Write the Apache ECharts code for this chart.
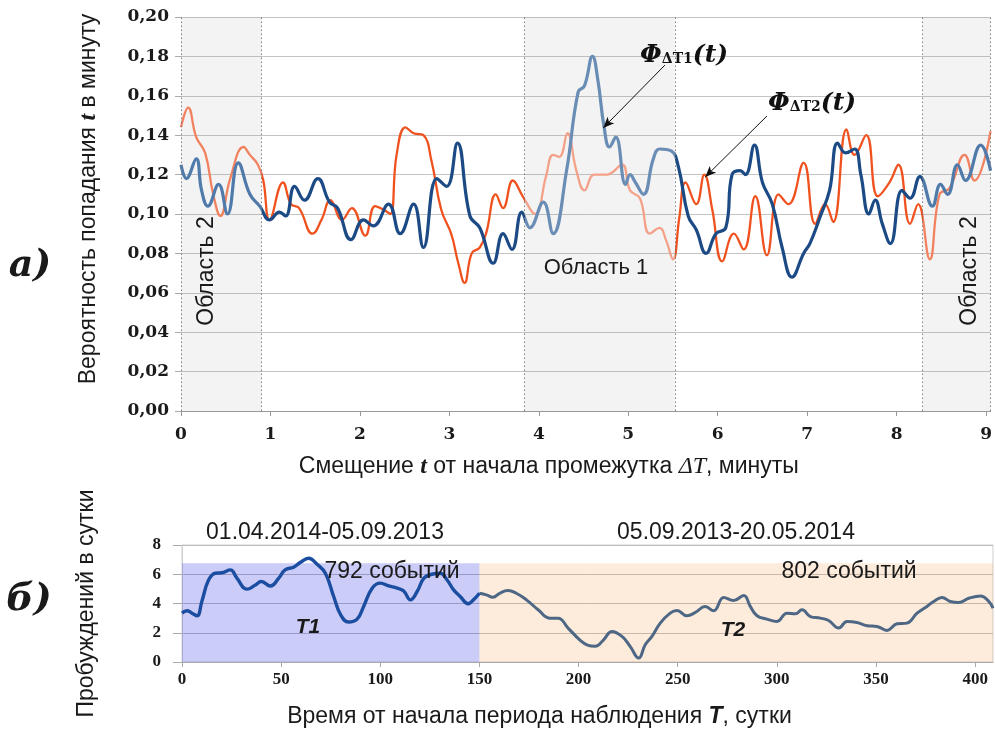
<!DOCTYPE html>
<html><head><meta charset="utf-8">
<script src="https://cdn.jsdelivr.net/npm/echarts@6/dist/echarts.min.js"></script>
<style>html,body{margin:0;padding:0;background:#fff}#c{width:995px;height:733px}</style>
</head><body><div id="c"></div>
<script>
// ---- Chart (a): probability per minute vs offset t ----
const orangeT = [0.00,0.08,0.17,0.27,0.36,0.44,0.55,0.70,0.77,0.86,0.92,0.99,1.14,1.23,1.32,1.47,1.57,1.67,1.80,1.91,2.06,2.17,2.27,2.34,2.41,2.51,2.60,2.71,2.80,2.91,3.02,3.10,3.17,3.25,3.34,3.41,3.52,3.60,3.71,3.82,3.96,4.08,4.16,4.23,4.32,4.42,4.51,4.62,4.76,4.93,5.02,5.13,5.24,5.35,5.42,5.50,5.57,5.64,5.76,5.85,5.94,6.05,6.18,6.29,6.42,6.55,6.68,6.79,6.96,7.09,7.20,7.29,7.44,7.53,7.66,7.79,7.92,8.02,8.15,8.24,8.37,8.48,8.59,8.76,8.87,9.05];
const orangeV = [0.144,0.154,0.139,0.131,0.110,0.099,0.118,0.134,0.130,0.125,0.117,0.097,0.116,0.105,0.103,0.090,0.097,0.107,0.097,0.103,0.089,0.104,0.102,0.100,0.130,0.144,0.141,0.140,0.127,0.102,0.090,0.075,0.065,0.080,0.083,0.090,0.110,0.103,0.117,0.109,0.100,0.119,0.130,0.129,0.141,0.122,0.112,0.120,0.120,0.125,0.112,0.108,0.090,0.093,0.087,0.077,0.098,0.116,0.105,0.120,0.102,0.076,0.090,0.082,0.109,0.079,0.110,0.105,0.126,0.095,0.105,0.096,0.143,0.130,0.140,0.109,0.116,0.125,0.095,0.105,0.077,0.110,0.113,0.130,0.117,0.142];
const blueT = [0.00,0.06,0.17,0.23,0.30,0.42,0.52,0.64,0.77,0.88,0.99,1.10,1.17,1.27,1.38,1.53,1.66,1.75,1.90,2.04,2.15,2.32,2.45,2.60,2.71,2.86,2.97,3.09,3.23,3.34,3.49,3.60,3.70,3.81,3.90,4.05,4.16,4.31,4.44,4.51,4.60,4.66,4.73,4.79,4.86,4.97,5.02,5.08,5.17,5.28,5.35,5.48,5.56,5.67,5.76,5.87,5.98,6.09,6.16,6.25,6.31,6.41,6.50,6.61,6.72,6.83,6.96,7.03,7.14,7.25,7.34,7.43,7.53,7.60,7.69,7.76,7.84,7.93,8.06,8.15,8.26,8.40,8.49,8.57,8.68,8.77,8.94,9.05];
const blueV = [0.125,0.118,0.128,0.112,0.104,0.115,0.100,0.126,0.110,0.104,0.097,0.101,0.099,0.114,0.107,0.118,0.106,0.103,0.087,0.097,0.094,0.105,0.090,0.105,0.083,0.118,0.114,0.136,0.099,0.093,0.075,0.090,0.082,0.101,0.093,0.106,0.090,0.122,0.162,0.165,0.180,0.168,0.144,0.134,0.139,0.115,0.120,0.116,0.110,0.128,0.133,0.132,0.124,0.099,0.092,0.080,0.090,0.093,0.120,0.122,0.120,0.135,0.116,0.105,0.083,0.068,0.080,0.085,0.098,0.112,0.136,0.131,0.133,0.120,0.100,0.107,0.095,0.085,0.112,0.108,0.119,0.104,0.115,0.110,0.125,0.117,0.135,0.122];
const region2Left = [0, 0.9];
const region1 = [3.84, 5.52];
const region2Right = [8.29, 9.05];
const topTickLabels = ['0','1','2','3','4','5','6','7','8','9'];

// ---- Chart (б): awakenings per day ----
const t1Days = [0,2.5,5,7.6,10,13.4,16.8,20,24.4,27.7,32.8,37,40,44.6,48.8,52,56.3,59.6,63.9,68,72.3,76.5,80,84,88.3,91.6,95.9,100,104.3,108.5,111.8,115.2,118.6,122,126,130.2,133.7,137,140.3,144.3,147,150];
const t1Vals = [3.34,3.5,3.34,3.16,4.14,5.6,6.07,6.1,6.3,5.73,4.98,5.27,5.5,5.2,5.73,6.3,6.48,6.8,7.09,6.7,6.07,4.48,3.23,2.73,2.93,3.8,5.05,5.39,5.2,5.05,4.86,4.25,4.82,5.73,6.0,6.07,5.61,4.93,4.48,3.98,4.25,4.7];
const t2Days = [150,153.5,156.8,160.2,164.4,168.6,173.7,179.6,185.4,189.7,194.7,200.7,204.5,208.4,212.6,216.8,221.9,226,230.3,233.6,237,241.2,246.2,249.6,254.6,258.9,263.9,268.1,273.2,278.2,283.3,286.6,290,295,300,305.1,309.3,312.7,316.9,321.9,326.1,331.2,335.4,340.4,345.5,350.5,355.5,360.6,365.6,370.7,375.7,379.1,383.3,387.5,391.7,396.8,402.7,406.9,409];
const t2Vals = [4.7,4.59,4.43,4.7,4.89,4.7,4.25,3.57,3.0,3.0,2.32,1.5,1.15,1.07,1.52,2.09,1.75,1.07,0.27,1.18,1.75,2.66,3.34,3.52,3.16,3.39,3.8,3.5,4.41,4.2,4.55,3.8,3.16,2.93,2.77,3.34,3.3,3.57,3.11,3.0,2.84,2.32,2.77,2.7,2.48,2.43,2.16,2.61,2.66,3.34,3.8,4.14,4.41,4.14,4.07,4.36,4.52,4.14,3.68];
const bandT1 = [0, 150, 6.75];     // x from, x to, height
const bandT2 = [150, 409, 6.75];
const bottomTickLabels = ['0','50','100','150','200','250','300','350','400'];

const zip = (a, b) => a.map((x, i) => [x, b[i]]);
const sans = '"Liberation Sans", Arial, sans-serif';
const serif = '"DejaVu Serif", serif';
const tserif = '"Liberation Serif", "Times New Roman", serif';
const ink = '#1a1a1a';

const chart = echarts.init(document.getElementById('c'), null, {renderer: 'canvas'});

const regions = [region2Left, region1, region2Right];
const regionAreas = regions.map(r => [{xAxis: r[0]}, {xAxis: r[1]}]);
const regionEdges = [];
regions.forEach(r => { regionEdges.push({xAxis: r[0]}); regionEdges.push({xAxis: r[1]}); });

const txt = (x, y, text, font, extra) => Object.assign({type: 'text', x, y, z: 100, zlevel: 0,
  style: {text, font, fill: ink, align: 'center', verticalAlign: 'middle'}}, extra || {});
const phiRich = {
  f: {font: 'italic bold 25px "DejaVu Serif", serif', fill: '#111', verticalAlign: 'bottom'},
  s: {font: 'bold 14px "DejaVu Serif", serif', fill: '#111', verticalAlign: 'bottom', padding: [0, 0, 1, 0]}
};

const option = {
  animation: false,
  backgroundColor: '#fff',
  grid: [
    {left: 181, top: 17, width: 812, height: 394},
    {left: 182, top: 545, width: 811, height: 117, show: true, borderColor: '#cfcfcf', borderWidth: 1, backgroundColor: 'transparent'}
  ],
  xAxis: [
    {gridIndex: 0, type: 'value', min: 0, max: 9.05, interval: 1,
     axisLine: {show: true, lineStyle: {color: '#999'}},
     axisTick: {show: true, length: 5, lineStyle: {color: '#999'}},
     splitLine: {show: false},
     axisLabel: {margin: 15, color: ink, fontFamily: serif, fontWeight: 'bold', fontSize: 17,
                 showMaxLabel: false, formatter: v => topTickLabels[Math.round(v)] ?? ''},
     name: '{a|Смещение }{b|t}{a| от начала промежутка }{c|ΔT}{a|, минуты}',
     nameLocation: 'middle', nameGap: 44,
     nameTextStyle: {padding: [0, 74, 0, 0], rich: {
       a: {fontFamily: sans, fontSize: 23, color: ink},
       b: {fontFamily: tserif, fontSize: 24, fontWeight: 'bold', fontStyle: 'italic', color: ink},
       c: {fontFamily: tserif, fontSize: 24, fontStyle: 'italic', color: ink}
     }}},
    {gridIndex: 1, type: 'value', min: 0, max: 409, interval: 50,
     axisLine: {show: true, lineStyle: {color: '#aaa'}},
     axisTick: {show: true, length: 5, lineStyle: {color: '#aaa'}},
     splitLine: {show: false},
     axisLabel: {margin: 9, color: ink, fontFamily: tserif, fontWeight: 'bold', fontSize: 17,
                 showMaxLabel: false, formatter: v => bottomTickLabels[Math.round(v / 50)] ?? ''},
     name: '{a|Время от начала периода наблюдения }{b|T}{a|, сутки}',
     nameLocation: 'middle', nameGap: 43,
     nameTextStyle: {padding: [0, 96, 0, 0], rich: {
       a: {fontFamily: sans, fontSize: 23, color: ink},
       b: {fontFamily: sans, fontSize: 23, fontWeight: 'bold', fontStyle: 'italic', color: ink}
     }}}
  ],
  yAxis: [
    {gridIndex: 0, type: 'value', min: 0, max: 0.2, interval: 0.02,
     axisLine: {show: false},
     axisTick: {show: true, length: 6, lineStyle: {color: '#aaa'}},
     splitLine: {show: true, lineStyle: {color: '#c4c4c4', width: 1}},
     axisLabel: {margin: 12, color: ink, fontFamily: serif, fontWeight: 'bold', fontSize: 17,
                 formatter: v => v.toFixed(2).replace('.', ',')},
     name: '{a|Вероятность попадания }{b|t}{a| в минуту}',
     nameLocation: 'middle', nameGap: 80, nameRotate: 90,
     nameTextStyle: {padding: [0, 0, 0, 30], rich: {
       a: {fontFamily: sans, fontSize: 23, color: ink},
       b: {fontFamily: tserif, fontSize: 24, fontWeight: 'bold', fontStyle: 'italic', color: ink}
     }}},
    {gridIndex: 1, type: 'value', min: 0, max: 8, interval: 2,
     axisLine: {show: true, lineStyle: {color: '#cfcfcf'}},
     axisTick: {show: true, length: 9, lineStyle: {color: '#aaa'}},
     splitLine: {show: true, lineStyle: {color: '#bdbdbd', width: 1}},
     axisLabel: {margin: 21, color: ink, fontFamily: tserif, fontWeight: 'bold', fontSize: 17},
     name: 'Пробуждений в сутки',
     nameLocation: 'middle', nameGap: 84, nameRotate: 90,
     nameTextStyle: {fontFamily: sans, fontSize: 23, color: ink}}
  ],
  visualMap: [
    {type: 'piecewise', show: false, seriesIndex: 1, dimension: 0, pieces: [
      {lt: region2Left[1], color: '#f2825f'},
      {gte: region2Left[1], lt: region1[0], color: '#f0521f'},
      {gte: region1[0], lt: region1[1], color: '#f4a18a'},
      {gte: region1[1], lt: region2Right[0], color: '#f0521f'},
      {gte: region2Right[0], color: '#f2825f'}]},
    {type: 'piecewise', show: false, seriesIndex: 2, dimension: 0, pieces: [
      {lt: region2Left[1], color: '#4f7aa9'},
      {gte: region2Left[1], lt: region1[0], color: '#1c4a85'},
      {gte: region1[0], lt: region1[1], color: '#6a8db5'},
      {gte: region1[1], lt: region2Right[0], color: '#1c4a85'},
      {gte: region2Right[0], color: '#4f7aa9'}]}
  ],
  series: [
    {type: 'line', xAxisIndex: 0, yAxisIndex: 0, data: [], silent: true, z: 1,
     markArea: {silent: true, itemStyle: {color: 'rgba(120,120,120,0.085)', borderWidth: 0},
                data: regionAreas},
     markLine: {silent: true, symbol: ['none', 'arrow'], symbolSize: [7, 11], precision: 4,
                lineStyle: {color: '#111', width: 1, type: 'solid'}, label: {show: false},
                data: [
                  [{coord: [5.41, 0.1756]}, {coord: [4.72, 0.1437]}],
                  [{coord: [6.55, 0.1497]}, {coord: [5.86, 0.1188]}]
                ]}},
    {name: 'ΦΔT2', type: 'line', xAxisIndex: 0, yAxisIndex: 0, data: zip(orangeT, orangeV),
     smooth: 0.45, showSymbol: false, lineStyle: {width: 2.3}, z: 3},
    {name: 'ΦΔT1', type: 'line', xAxisIndex: 0, yAxisIndex: 0, data: zip(blueT, blueV),
     smooth: 0.45, showSymbol: false, lineStyle: {width: 3.2}, z: 4},
    {type: 'line', xAxisIndex: 1, yAxisIndex: 1, data: [], silent: true,
     markArea: {silent: true, data: [
       [{coord: [bandT1[0], 0], itemStyle: {color: 'rgba(51,51,227,0.25)'}}, {coord: [bandT1[1], bandT1[2]]}],
       [{coord: [bandT2[0], 0], itemStyle: {color: 'rgba(245,155,80,0.2)'}}, {coord: [bandT2[1], bandT2[2]]}]
     ]}},
    {name: 'T1', type: 'line', xAxisIndex: 1, yAxisIndex: 1, data: zip(t1Days, t1Vals),
     smooth: 0.45, showSymbol: false, lineStyle: {width: 3.4, color: '#1b4ea0'}, itemStyle: {color: '#1b4ea0'}, z: 4},
    {name: 'T2', type: 'line', xAxisIndex: 1, yAxisIndex: 1, data: zip(t2Days, t2Vals),
     smooth: 0.45, showSymbol: false, lineStyle: {width: 3, color: '#4d6785'}, itemStyle: {color: '#4d6785'}, z: 3},
    {type: 'line', xAxisIndex: 0, yAxisIndex: 0, data: [], silent: true, z: 2,
     markLine: {silent: true, symbol: ['none', 'none'], precision: 4, label: {show: false},
                lineStyle: {color: '#7a7a7a', width: 1, type: [1.5, 2.5]}, data: regionEdges}}
  ],
  graphic: [
    txt(30, 266, 'а)', 'italic bold 38px "DejaVu Serif", serif'),
    txt(29, 600, 'б)', 'italic bold 38px "DejaVu Serif", serif'),
    txt(207, 271, 'Область 2', '23px "Liberation Sans", Arial, sans-serif', {rotation: Math.PI / 2}),
    txt(970, 271, 'Область 2', '23px "Liberation Sans", Arial, sans-serif', {rotation: Math.PI / 2}),
    txt(596, 268, 'Область 1', '22px "Liberation Sans", Arial, sans-serif'),
    {type: 'text', x: 684, y: 55, z: 100, style: {text: '{f|Φ}{s|ΔT1}{f|(t)}', align: 'center', verticalAlign: 'middle', rich: phiRich}},
    {type: 'text', x: 812, y: 103, z: 100, style: {text: '{f|Φ}{s|ΔT2}{f|(t)}', align: 'center', verticalAlign: 'middle', rich: phiRich}},
    txt(325, 533, '01.04.2014-05.09.2013', '23px "Liberation Sans", Arial, sans-serif'),
    txt(736, 533, '05.09.2013-20.05.2014', '23px "Liberation Sans", Arial, sans-serif'),
    txt(392, 572, '792 событий', '23px "Liberation Sans", Arial, sans-serif'),
    txt(849, 572, '802 событий', '23px "Liberation Sans", Arial, sans-serif'),
    txt(308, 627, 'T1', 'italic bold 21px "Liberation Sans", Arial, sans-serif'),
    txt(733, 630, 'T2', 'italic bold 21px "Liberation Sans", Arial, sans-serif')
  ]
};
chart.setOption(option);
</script>
</body></html>
